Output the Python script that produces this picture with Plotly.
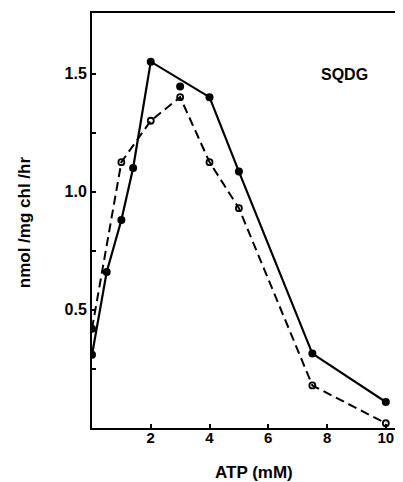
import plotly.graph_objects as go

# Filled circles (solid line)
filled_x = [0, 0, 0.5, 1.0, 1.4, 2, 3, 4, 5, 7.5, 10]
filled_y = [0.42, 0.31, 0.66, 0.88, 1.10, 1.55, 1.445, 1.40, 1.085, 0.315, 0.11]
# Solid line path through the filled points
solid_x = [0, 0.5, 1.0, 1.4, 2, 4, 5, 7.5, 10]
solid_y = [0.31, 0.66, 0.88, 1.10, 1.55, 1.40, 1.085, 0.315, 0.11]

# Open circles (dashed line)
open_x = [1.0, 2, 3, 4, 5, 7.5, 10]
open_y = [1.125, 1.30, 1.40, 1.125, 0.93, 0.18, 0.02]
dash_x = [0] + open_x
dash_y = [0.42] + open_y

xticks = [2, 4, 6, 8, 10]
xlabels = ["2", "4", "6", "8", "10"]
yticks = [0.25, 0.5, 0.75, 1.0, 1.25, 1.5]
ylabels = ["", "0.5", "", "1.0", "", "1.5"]

FONT = "Liberation Sans"

fig = go.Figure()
fig.add_trace(go.Scatter(x=dash_x, y=dash_y, mode="lines",
                         line=dict(color="black", width=2, dash="9px,5px"),
                         hoverinfo="skip"))
fig.add_trace(go.Scatter(x=solid_x, y=solid_y, mode="lines",
                         line=dict(color="black", width=2.2),
                         hoverinfo="skip"))
fig.add_trace(go.Scatter(x=open_x, y=open_y, mode="markers",
                         marker=dict(symbol="circle-open", size=6, color="black",
                                     line=dict(width=1.8, color="black"))))
fig.add_trace(go.Scatter(x=filled_x, y=filled_y, mode="markers",
                         marker=dict(symbol="circle", size=8, color="black")))

fig.add_annotation(x=8.58, y=1.496, text="SQDG", showarrow=False,
                   xanchor="center", yanchor="middle",
                   font=dict(family=FONT, size=16, color="black", weight="bold"))
fig.add_annotation(xref="paper", yref="paper", x=0.5205, y=-0.107,
                   text="ATP (mM)", showarrow=False,
                   xanchor="center", yanchor="middle",
                   font=dict(family=FONT, size=17, color="black", weight="bold"))
fig.add_annotation(xref="paper", yref="paper", x=-0.2166, y=0.495,
                   text="nmol /mg chl /hr", showarrow=False, textangle=-90,
                   xanchor="center", yanchor="middle",
                   font=dict(family=FONT, size=17, color="black", weight="bold"))

fig.update_layout(
    width=395, height=474,
    margin=dict(l=84.3, r=0, t=5, b=53.8, autoexpand=False),
    paper_bgcolor="white", plot_bgcolor="white",
    showlegend=False,
    font=dict(family=FONT, color="black", size=14, weight="bold"),
    xaxis=dict(range=[0, 10.585], tickvals=xticks, ticktext=xlabels,
               ticks="inside", ticklen=4, tickwidth=1.5, tickcolor="black",
               showline=True, linecolor="black", linewidth=2, mirror=True,
               showgrid=False, zeroline=False, automargin=False,
               ticklabelstandoff=-5,
               tickfont=dict(family=FONT, size=15, weight="bold")),
    yaxis=dict(range=[0, 1.756], tickvals=yticks, ticktext=ylabels,
               ticks="inside", ticklen=4, tickwidth=1.5, tickcolor="black",
               showline=True, linecolor="black", linewidth=2,
               showgrid=False, zeroline=False, automargin=False,
               tickfont=dict(family=FONT, size=16, weight="bold")),
)

fig.write_html("out.html")
